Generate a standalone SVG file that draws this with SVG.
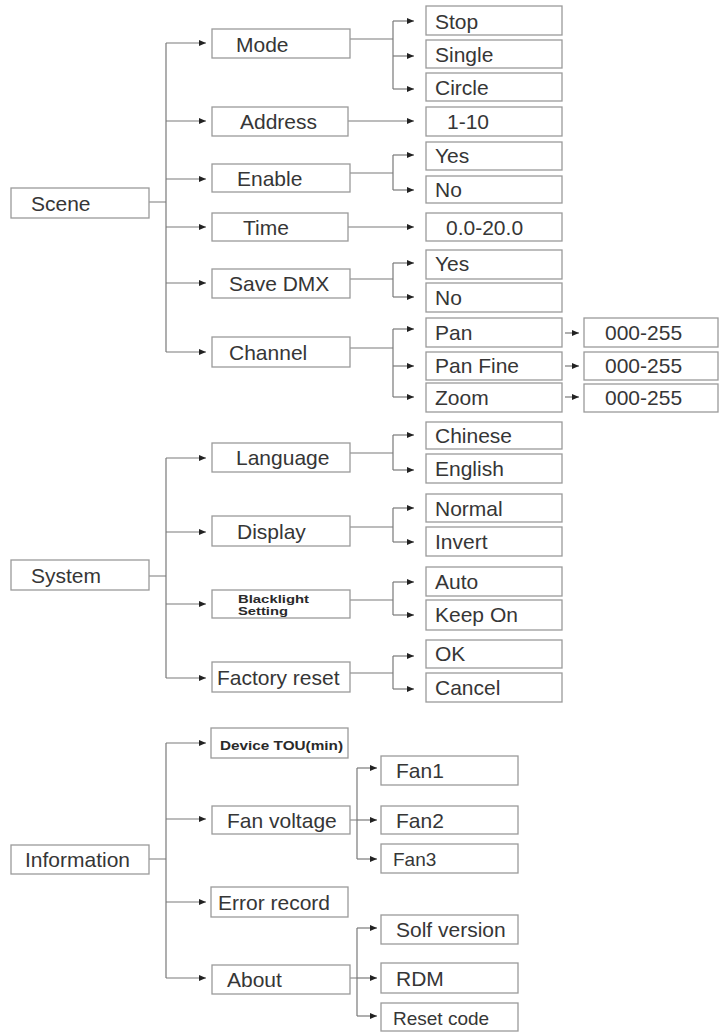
<svg xmlns="http://www.w3.org/2000/svg" width="720" height="1032" viewBox="0 0 720 1032">
<style>
.box{fill:#fff;stroke:#9a9a9a;stroke-width:1.3}
.t{font-family:"Liberation Sans",Arial,sans-serif;font-size:21px;fill:#363636}
.s{font-size:19px}
.b{font-family:"Liberation Sans",Arial,sans-serif;font-size:12.5px;font-weight:bold;fill:#2a2a2a}
.bs{font-size:11px}
.c{stroke:#7a7a7a;fill:none;stroke-width:1.2}
.a{stroke:#7a7a7a;fill:none;stroke-width:1.2;marker-end:url(#ah)}
</style>
<defs>
<marker id="ah" markerUnits="userSpaceOnUse" markerWidth="7" markerHeight="6" refX="7" refY="3" orient="auto">
<path d="M0,0 L7,3 L0,6 z" fill="#222"/>
</marker>
</defs>
<rect width="720" height="1032" fill="#fff"/>
<g id="connectors">
<path class="c" d="M149,202 H166 M166,43 V352"/>
<path class="a" d="M166,43 H206"/>
<path class="a" d="M166,121 H206"/>
<path class="a" d="M166,179 H206"/>
<path class="a" d="M166,227 H206"/>
<path class="a" d="M166,283 H206"/>
<path class="a" d="M166,352 H206"/>
<path class="c" d="M350,39 H393 M393,21 V89"/>
<path class="a" d="M393,21 H414"/>
<path class="a" d="M393,56 H414"/>
<path class="a" d="M393,89 H414"/>
<path class="a" d="M348,121 H414"/>
<path class="c" d="M350,173 H393 M393,155 V190"/>
<path class="a" d="M393,155 H414"/>
<path class="a" d="M393,190 H414"/>
<path class="a" d="M348,227 H414"/>
<path class="c" d="M350,279 H393 M393,263 V297"/>
<path class="a" d="M393,263 H414"/>
<path class="a" d="M393,297 H414"/>
<path class="c" d="M350,348 H393 M393,329 V397"/>
<path class="a" d="M393,329 H414"/>
<path class="a" d="M393,366 H414"/>
<path class="a" d="M393,397 H414"/>
<path class="a" d="M565,333 H579"/>
<path class="a" d="M565,366 H579"/>
<path class="a" d="M565,397 H579"/>
<path class="c" d="M149,576 H166 M166,458 V678"/>
<path class="a" d="M166,458 H206"/>
<path class="a" d="M166,532 H206"/>
<path class="a" d="M166,604 H206"/>
<path class="a" d="M166,678 H206"/>
<path class="c" d="M350,453 H393 M393,435 V470"/>
<path class="a" d="M393,435 H414"/>
<path class="a" d="M393,470 H414"/>
<path class="c" d="M350,527 H393 M393,508 V542"/>
<path class="a" d="M393,508 H414"/>
<path class="a" d="M393,542 H414"/>
<path class="c" d="M350,600 H393 M393,582 V615"/>
<path class="a" d="M393,582 H414"/>
<path class="a" d="M393,615 H414"/>
<path class="c" d="M350,673 H393 M393,656 V689"/>
<path class="a" d="M393,656 H414"/>
<path class="a" d="M393,689 H414"/>
<path class="c" d="M149,859 H166 M166,743 V978"/>
<path class="a" d="M166,743 H206"/>
<path class="a" d="M166,819 H206"/>
<path class="a" d="M166,902 H206"/>
<path class="a" d="M166,978 H206"/>
<path class="c" d="M350,820 H357 M357,768 V859"/>
<path class="a" d="M357,768 H377"/>
<path class="a" d="M357,820 H377"/>
<path class="a" d="M357,859 H377"/>
<path class="c" d="M350,978 H357 M357,928 V1016"/>
<path class="a" d="M357,928 H377"/>
<path class="a" d="M357,978 H377"/>
<path class="a" d="M357,1016 H377"/>
</g>

<g id="scene"><rect class="box" x="11" y="188" width="138" height="30"/><text class="t" x="31" y="211">Scene</text></g>
<g id="mode"><rect class="box" x="212" y="29" width="138" height="29"/><text class="t" x="236" y="52">Mode</text></g>
<g id="address"><rect class="box" x="212" y="107" width="136" height="29"/><text class="t" x="240" y="129">Address</text></g>
<g id="enable"><rect class="box" x="212" y="164" width="138" height="28"/><text class="t" x="237" y="186">Enable</text></g>
<g id="time"><rect class="box" x="212" y="213" width="136" height="28"/><text class="t" x="243" y="235">Time</text></g>
<g id="savedmx"><rect class="box" x="212" y="269" width="138" height="29"/><text class="t" x="229" y="291">Save DMX</text></g>
<g id="channel"><rect class="box" x="212" y="337" width="138" height="30"/><text class="t" x="229" y="360">Channel</text></g>

<g id="stop"><rect class="box" x="426" y="6" width="136" height="29"/><text class="t" x="435" y="29">Stop</text></g>
<g id="single"><rect class="box" x="426" y="40" width="136" height="28"/><text class="t" x="435" y="62">Single</text></g>
<g id="circle"><rect class="box" x="426" y="73" width="136" height="28"/><text class="t" x="435" y="95">Circle</text></g>
<g id="addr-range"><rect class="box" x="426" y="107" width="136" height="29"/><text class="t" x="447" y="129">1-10</text></g>
<g id="enable-yes"><rect class="box" x="426" y="142" width="136" height="28"/><text class="t" x="435" y="163">Yes</text></g>
<g id="enable-no"><rect class="box" x="426" y="176" width="136" height="27"/><text class="t" x="435" y="197">No</text></g>
<g id="time-range"><rect class="box" x="426" y="213" width="136" height="28"/><text class="t" x="446" y="235">0.0-20.0</text></g>
<g id="save-yes"><rect class="box" x="426" y="250" width="136" height="29"/><text class="t" x="435" y="271">Yes</text></g>
<g id="save-no"><rect class="box" x="426" y="283" width="136" height="29"/><text class="t" x="435" y="305">No</text></g>
<g id="pan"><rect class="box" x="426" y="318" width="136" height="29"/><text class="t" x="435" y="340">Pan</text></g>
<g id="panfine"><rect class="box" x="426" y="352" width="136" height="28"/><text class="t" x="435" y="373">Pan Fine</text></g>
<g id="zoom"><rect class="box" x="426" y="383" width="136" height="29"/><text class="t" x="435" y="405">Zoom</text></g>
<g id="pan-val"><rect class="box" x="584" y="318" width="134" height="29"/><text class="t" x="605" y="340">000-255</text></g>
<g id="panfine-val"><rect class="box" x="584" y="352" width="134" height="28"/><text class="t" x="605" y="373">000-255</text></g>
<g id="zoom-val"><rect class="box" x="584" y="384" width="134" height="28"/><text class="t" x="605" y="405">000-255</text></g>

<g id="system"><rect class="box" x="11" y="560" width="138" height="30"/><text class="t" x="31" y="583">System</text></g>
<g id="language"><rect class="box" x="212" y="443" width="138" height="29"/><text class="t" x="236" y="465">Language</text></g>
<g id="display"><rect class="box" x="212" y="516" width="138" height="30"/><text class="t" x="237" y="539">Display</text></g>
<g id="blacklight"><rect class="box" x="212" y="590" width="138" height="28"/><text class="b bs" x="238" y="602.5" textLength="71" lengthAdjust="spacingAndGlyphs">Blacklight</text><text class="b bs" x="238" y="615" textLength="50" lengthAdjust="spacingAndGlyphs">Setting</text></g>
<g id="factory"><rect class="box" x="212" y="662" width="138" height="30"/><text class="t" x="217" y="685">Factory reset</text></g>
<g id="chinese"><rect class="box" x="426" y="422" width="136" height="27"/><text class="t" x="435" y="443">Chinese</text></g>
<g id="english"><rect class="box" x="426" y="454" width="136" height="29"/><text class="t" x="435" y="476">English</text></g>
<g id="normal"><rect class="box" x="426" y="494" width="136" height="28"/><text class="t" x="435" y="516">Normal</text></g>
<g id="invert"><rect class="box" x="426" y="527" width="136" height="29"/><text class="t" x="435" y="549">Invert</text></g>
<g id="auto"><rect class="box" x="426" y="567" width="136" height="29"/><text class="t" x="435" y="589">Auto</text></g>
<g id="keepon"><rect class="box" x="426" y="600" width="136" height="30"/><text class="t" x="435" y="622">Keep On</text></g>
<g id="ok"><rect class="box" x="426" y="640" width="136" height="28"/><text class="t" x="435" y="661">OK</text></g>
<g id="cancel"><rect class="box" x="426" y="673" width="136" height="29"/><text class="t" x="435" y="695">Cancel</text></g>

<g id="information"><rect class="box" x="11" y="845" width="138" height="29"/><text class="t" x="25" y="867">Information</text></g>
<g id="device-tou"><rect class="box" x="211" y="728" width="137" height="30"/><text class="b" x="220" y="749.5" textLength="123" lengthAdjust="spacingAndGlyphs">Device TOU(min)</text></g>
<g id="fanvoltage"><rect class="box" x="212" y="806" width="138" height="28"/><text class="t" x="227" y="828">Fan voltage</text></g>
<g id="errorrecord"><rect class="box" x="211" y="887" width="137" height="30"/><text class="t" x="218" y="910">Error record</text></g>
<g id="about"><rect class="box" x="212" y="965" width="138" height="29"/><text class="t" x="227" y="987">About</text></g>
<g id="fan1"><rect class="box" x="381" y="756" width="137" height="29"/><text class="t" x="396" y="778">Fan1</text></g>
<g id="fan2"><rect class="box" x="381" y="806" width="137" height="28"/><text class="t" x="396" y="828">Fan2</text></g>
<g id="fan3"><rect class="box" x="381" y="844" width="137" height="29"/><text class="t s" x="393" y="866">Fan3</text></g>
<g id="solfversion"><rect class="box" x="381" y="915" width="137" height="29"/><text class="t" x="396" y="937">Solf version</text></g>
<g id="rdm"><rect class="box" x="381" y="963" width="137" height="30"/><text class="t" x="396" y="986">RDM</text></g>
<g id="resetcode"><rect class="box" x="381" y="1003" width="137" height="28"/><text class="t s" x="393" y="1025">Reset code</text></g>
</svg>
